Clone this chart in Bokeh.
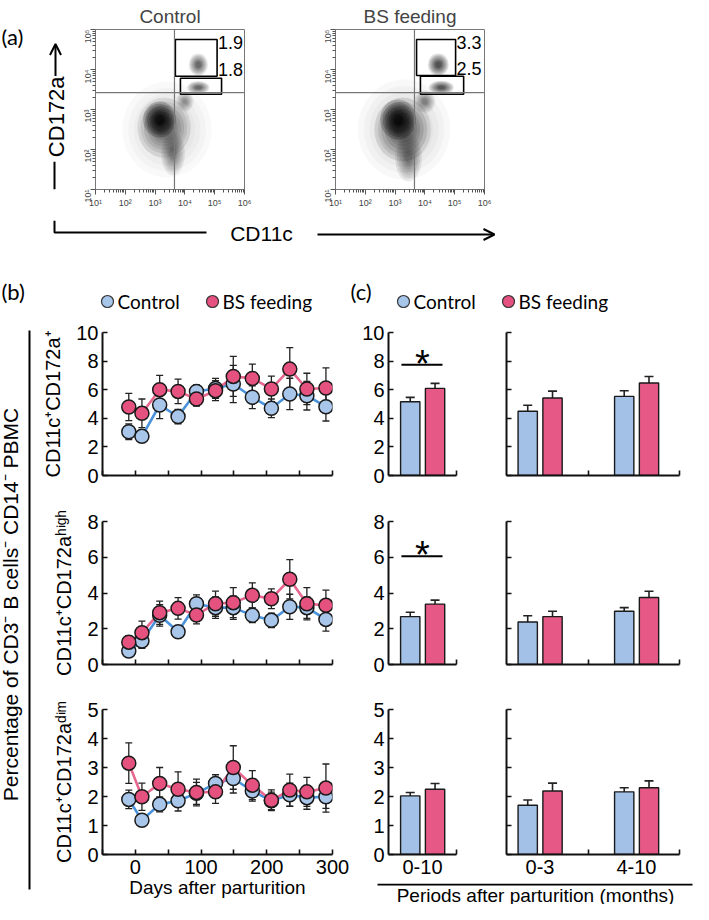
import numpy as np
from bokeh.plotting import figure
from bokeh.layouts import row, column
from bokeh.models import (Range1d, FixedTicker, Whisker, TeeHead, ColumnDataSource,
                          Span, Arrow, OpenHead, Spacer)
from bokeh.core.properties import value
from bokeh.embed import file_html
from bokeh.resources import INLINE

# ---------------- data ----------------
# Panel (a): flow cytometry (log10 units). Density clusters: centre, spread, weight
flow_ctrl_cx = [3.15, 3.3, 3.6, 4.45, 4.45, 4.0, 3.4]
flow_ctrl_cy = [2.75, 2.55, 1.9, 4.12, 3.55, 3.2, 2.5]
flow_ctrl_sx = [0.55, 0.9, 0.4, 0.32, 0.38, 0.3, 1.5]
flow_ctrl_sy = [0.45, 0.75, 0.55, 0.28, 0.16, 0.25, 1.2]
flow_ctrl_wt = [1.0, 0.4, 0.35, 0.5, 0.5, 0.3, 0.12]

flow_bs_cx = [3.1, 3.25, 3.45, 4.45, 4.55, 4.0, 3.3]
flow_bs_cy = [2.75, 2.5, 1.8, 4.12, 3.55, 3.2, 2.5]
flow_bs_sx = [0.6, 0.95, 0.45, 0.35, 0.42, 0.35, 1.55]
flow_bs_sy = [0.5, 0.8, 0.6, 0.28, 0.17, 0.28, 1.25]
flow_bs_wt = [1.0, 0.45, 0.4, 0.65, 0.6, 0.35, 0.14]

quad_x = 3.65
quad_y = 3.42
gate_hi_ctrl = [3.68, 5.08, 3.83, 4.75]
gate_lo_ctrl = [3.85, 5.23, 3.38, 3.78]
gate_hi_bs = [3.72, 5.03, 3.85, 4.75]
gate_lo_bs = [3.85, 5.30, 3.38, 3.83]
gate_pct_ctrl = ["1.9", "1.8"]
gate_pct_bs = ["3.3", "2.5"]
flow_decades_x = [1, 2, 3, 4, 5, 6]
flow_decades_y = [1, 2, 3, 4, 5]
sup = {1: "¹", 2: "²", 3: "³", 4: "⁴", 5: "⁵", 6: "⁶"}

# Panel (b): time course
days = [-10, 10, 37, 65, 93, 122, 149, 178, 207, 235, 261, 290]
ctrl_pos = [3.06, 2.74, 4.93, 4.12, 5.88, 6.09, 6.40, 5.47, 4.70, 5.70, 5.58, 4.81]
ctrl_pos_e = [0.55, 0.3, 0.95, 0.5, 0.45, 0.7, 1.3, 0.8, 0.65, 1.1, 1.0, 1.0]
bs_pos = [4.79, 4.35, 6.00, 5.88, 5.35, 5.93, 6.93, 6.79, 6.05, 7.44, 6.05, 6.12]
bs_pos_e = [0.95, 1.0, 1.0, 0.86, 0.5, 0.7, 1.4, 1.0, 0.9, 1.5, 1.1, 1.4]

ctrl_high = [0.75, 1.31, 2.75, 1.83, 3.40, 3.18, 3.18, 2.75, 2.47, 3.23, 3.18, 2.52]
ctrl_high_e = [0.3, 0.4, 0.6, 0.3, 0.5, 0.6, 0.65, 0.4, 0.4, 0.7, 0.6, 0.65]
bs_high = [1.25, 1.78, 2.90, 3.14, 2.77, 3.40, 3.46, 3.87, 3.68, 4.77, 3.40, 3.31]
bs_high_e = [0.35, 0.65, 0.65, 0.6, 0.5, 0.7, 0.84, 0.7, 0.55, 1.1, 0.9, 0.85]

ctrl_dim = [1.90, 1.18, 1.73, 1.85, 2.11, 2.45, 2.62, 2.19, 1.85, 2.06, 1.96, 1.99]
ctrl_dim_e = [0.32, 0.15, 0.26, 0.35, 0.38, 0.3, 0.5, 0.35, 0.3, 0.4, 0.4, 0.4]
bs_dim = [3.15, 1.99, 2.45, 2.25, 2.14, 2.16, 3.00, 2.39, 1.87, 2.22, 2.16, 2.29]
bs_dim_e = [0.7, 0.47, 0.55, 0.6, 0.46, 0.4, 0.75, 0.5, 0.36, 0.55, 0.5, 0.83]

# Panel (c): period means
periods_all = ["0-10"]
periods_split = ["0-3", "4-10"]
pos_ctrl_all, pos_ctrl_all_e = [5.16], [0.3]
pos_bs_all, pos_bs_all_e = [6.09], [0.35]
pos_ctrl_split, pos_ctrl_split_e = [4.49, 5.53], [0.42, 0.4]
pos_bs_split, pos_bs_split_e = [5.42, 6.47], [0.48, 0.45]
high_ctrl_all, high_ctrl_all_e = [2.68], [0.24]
high_bs_all, high_bs_all_e = [3.38], [0.22]
high_ctrl_split, high_ctrl_split_e = [2.38, 2.98], [0.35, 0.2]
high_bs_split, high_bs_split_e = [2.68, 3.75], [0.3, 0.35]
dim_ctrl_all, dim_ctrl_all_e = [2.02], [0.12]
dim_bs_all, dim_bs_all_e = [2.25], [0.2]
dim_ctrl_split, dim_ctrl_split_e = [1.70, 2.16], [0.18, 0.14]
dim_bs_split, dim_bs_split_e = [2.19, 2.30], [0.27, 0.24]
sig_pos = 7.75
sig_high = 6.05

# ---------------- styles ----------------
FONT = "Liberation Sans"
LFONT = "Lato"
BLUE_LINE = "#4a93dc"
PINK_LINE = "#e8678f"
BLUE_FILL = "#a8c5ea"
PINK_FILL = "#e6527f"
BAR_BLUE = "#a3c1e7"
BAR_PINK = "#e65987"
EDGE = "#1a1a1a"
TICK_PX = "20px"


def canvas(x0, x1, y0, y1):
    p = figure(width=x1 - x0, height=y1 - y0, x_range=Range1d(x0, x1), y_range=Range1d(y1, y0),
               x_axis_type=None, y_axis_type=None, toolbar_location=None,
               output_backend="svg", min_border=0, outline_line_color=None)
    p.background_fill_color = "white"
    p.border_fill_color = "white"
    return p


def txt(p, x, y, s, size, font=FONT, align="center", baseline="middle", angle=0.0):
    p.text(x=[x], y=[y], text=[s], text_font=value(font), text_font_size=f"{size}px",
           text_align=align, text_baseline=baseline, angle=angle, text_color="black")


def arrow(p, x0, y0, x1, y1):
    p.add_layout(Arrow(end=OpenHead(size=11, line_width=2, line_color="black"),
                       x_start=x0, y_start=y0, x_end=x1, y_end=y1,
                       line_width=2, line_color="black"))


# ---------------- panel (a) ----------------
def flow_fig(title, cx, cy, sx, sy, wt, g_hi, g_lo, pct, left_border):
    p = figure(width=left_border + 149 + 16, height=220, x_range=Range1d(1, 6), y_range=Range1d(1, 5),
               min_border_left=left_border, min_border_right=16, min_border_top=29,
               min_border_bottom=31, toolbar_location=None, output_backend="svg")
    p.title.text = title
    p.title.align = "center"
    p.title.text_font = FONT
    p.title.text_font_size = "19px"
    p.title.text_font_style = "normal"
    p.title.standoff = 5
    p.grid.visible = False
    p.outline_line_color = "#777777"
    layers = [1.0, 0.87, 0.75, 0.63, 0.52, 0.42, 0.33, 0.25]
    ex, ey, ew, eh, ea = [], [], [], [], []
    for a, b, c, d, w in zip(cx, cy, sx, sy, wt):
        for s in layers:
            ex.append(a); ey.append(b); ew.append(2 * c * s); eh.append(2 * d * s)
            ea.append(min(1.0, w * 0.2))
    p.ellipse(x=ex, y=ey, width=ew, height=eh, fill_color="black", fill_alpha=ea, line_color=None)
    p.add_layout(Span(location=quad_x, dimension="height", line_color="#777777", line_width=1.2))
    p.add_layout(Span(location=quad_y, dimension="width", line_color="#777777", line_width=1.2))
    for g in (g_hi, g_lo):
        p.quad(left=[g[0]], right=[g[1]], bottom=[g[2]], top=[g[3]], fill_color=None,
               line_color="black", line_width=1.6)
    p.text(x=[g_hi[1] + 0.03, g_hi[1] + 0.03], y=[g_hi[3] - 0.07, g_hi[2] + 0.17], text=pct,
           text_font=value(FONT), text_font_size="18px", text_align="left",
           text_baseline="middle", text_color="black")
    minors = [float(np.log10(m)) + k for k in range(1, 6) for m in range(2, 10)]
    p.xaxis.ticker = FixedTicker(ticks=flow_decades_x, minor_ticks=minors)
    p.yaxis.ticker = FixedTicker(ticks=flow_decades_y, minor_ticks=[v for v in minors if v < 5])
    p.xaxis.major_label_overrides = {k: "10" + sup[k] for k in flow_decades_x}
    p.yaxis.major_label_overrides = {k: "10" + sup[k] for k in flow_decades_y}
    p.yaxis.major_label_orientation = np.pi / 2
    for ax in (p.xaxis, p.yaxis):
        ax.major_label_text_font = FONT
        ax.major_label_text_font_size = "9px"
        ax.major_label_standoff = 3
        ax.axis_line_color = "#777777"
        ax.major_tick_line_color = "#555555"
        ax.minor_tick_line_color = "#555555"
        ax.major_tick_in = 0
        ax.major_tick_out = 5
        ax.minor_tick_in = 0
        ax.minor_tick_out = 3
    return p


# control figure spans x 82..268, BS figure x 315..508 (frames 103..252 and 343..492)
flow_ctrl = flow_fig("Control", flow_ctrl_cx, flow_ctrl_cy, flow_ctrl_sx, flow_ctrl_sy,
                     flow_ctrl_wt, gate_hi_ctrl, gate_lo_ctrl, gate_pct_ctrl, 21)
flow_bs = flow_fig("BS feeding", flow_bs_cx, flow_bs_cy, flow_bs_sx, flow_bs_sy,
                   flow_bs_wt, gate_hi_bs, gate_lo_bs, gate_pct_bs, 28)

annA_left = canvas(8, 82, 8, 228)
txt(annA_left, 9, 17, "(a)", 22, font=LFONT, align="left")
arrow(annA_left, 63, 72, 63, 28)
txt(annA_left, 64, 128, "CD172a", 22, angle=np.pi / 2)
annA_left.line(x=[62, 62], y=[190, 228], line_color="black", line_width=2)

annA_bottom = canvas(8, 701, 228, 285)
annA_bottom.line(x=[62, 62, 214], y=[228, 240, 240], line_color="black", line_width=2)
txt(annA_bottom, 269, 241, "CD11c", 21)
arrow(annA_bottom, 325, 242, 502, 242)

rowA = row(annA_left, flow_ctrl, Spacer(width=47, height=220), flow_bs, spacing=0)

# ---------------- legends strip ----------------
leg = canvas(8, 701, 285, 330)
txt(leg, 9, 299, "(b)", 22, font=LFONT, align="left")
txt(leg, 358, 299, "(c)", 22, font=LFONT, align="left")
for x0 in (115, 411):
    leg.scatter(x=[x0], y=[309], size=12, fill_color=BLUE_FILL, line_color="#333333", line_width=1.2)
    leg.scatter(x=[x0 + 105], y=[309], size=12, fill_color=PINK_FILL, line_color="#333333", line_width=1.2)
    txt(leg, x0 + 10, 309, "Control", 19, font=LFONT, align="left")
    txt(leg, x0 + 115, 309, "BS feeding", 19, font=LFONT, align="left")


# ---------------- panel (b) ----------------
def style_axes(p):
    for ax in (p.xaxis, p.yaxis):
        ax.axis_line_width = 2
        ax.axis_line_color = "#111111"
        ax.major_tick_in = 5
        ax.major_tick_out = 0
        ax.minor_tick_in = 5
        ax.minor_tick_out = 0
        ax.major_tick_line_width = 1.6
        ax.minor_tick_line_width = 1.6
        ax.major_tick_line_color = "#111111"
        ax.minor_tick_line_color = "#111111"
        ax.major_label_text_font = FONT
        ax.major_label_text_font_size = TICK_PX
        ax.major_label_text_color = "black"
        ax.major_label_standoff = 4
        ax.axis_label_text_font = FONT
        ax.axis_label_text_font_style = "normal"
        ax.axis_label_text_color = "black"
    p.grid.visible = False
    p.outline_line_color = None


def whisk(p, xs, ys, es, size, width):
    src = ColumnDataSource(dict(x=xs, upper=[a + b for a, b in zip(ys, es)],
                                lower=[a - b for a, b in zip(ys, es)]))
    p.add_layout(Whisker(source=src, base="x", upper="upper", lower="lower",
                         line_color="#222222", line_width=width,
                         upper_head=TeeHead(size=size, line_color="#222222", line_width=width),
                         lower_head=TeeHead(size=size, line_color="#222222", line_width=width),
                         level="underlay"))


def line_fig(frame_h, top, bottom, ymax, ystep, ylabel, c, ce, b, be, show_x):
    p = figure(width=315, height=top + frame_h + bottom, x_range=Range1d(-50, 300),
               y_range=Range1d(0, ymax), min_border_left=65, min_border_right=20,
               min_border_top=top, min_border_bottom=bottom,
               toolbar_location=None, output_backend="svg")
    style_axes(p)
    p.yaxis.ticker = FixedTicker(ticks=list(range(0, ymax + 1, ystep)))
    p.yaxis.axis_label = ylabel
    p.yaxis.axis_label_text_font_size = "20px"
    p.yaxis.axis_label_standoff = 9
    if show_x:
        p.xaxis.ticker = FixedTicker(ticks=[0, 100, 200, 300], minor_ticks=[-50, 50, 150, 250])
        p.xaxis.axis_label = "Days after parturition"
        p.xaxis.axis_label_text_font_size = "19px"
        p.xaxis.axis_label_standoff = 0
        p.xaxis.major_label_standoff = 5
    else:
        p.xaxis.ticker = FixedTicker(ticks=[], minor_ticks=[-50, 0, 50, 100, 150, 200, 250, 300])
    whisk(p, days, c, ce, 7, 1.3)
    whisk(p, days, b, be, 7, 1.3)
    p.line(days, c, line_color=BLUE_LINE, line_width=2.6)
    p.line(days, b, line_color=PINK_LINE, line_width=2.6)
    p.scatter(days, c, size=14, fill_color=BLUE_FILL, line_color=EDGE, line_width=1.5)
    p.scatter(days, b, size=14, fill_color=PINK_FILL, line_color=EDGE, line_width=1.5)
    return p


b1 = line_fig(143, 10, 17, 10, 2, "CD11c⁺CD172a⁺", ctrl_pos, ctrl_pos_e, bs_pos, bs_pos_e, False)
b2 = line_fig(143, 29, 18, 8, 2, "CD11c⁺CD172aʰⁱᵍʰ", ctrl_high, ctrl_high_e, bs_high, bs_high_e, False)
b3 = line_fig(145, 27, 50, 5, 1, "CD11c⁺CD172aᵈⁱᵐ", ctrl_dim, ctrl_dim_e, bs_dim, bs_dim_e, True)

annB_left = canvas(8, 45, 330, 912)
txt(annB_left, 18, 612, "Percentage of CD3⁻ B cells⁻ CD14⁻ PBMC", 21, angle=np.pi / 2)
annB_left.line(x=[37, 37], y=[338, 897], line_color="black", line_width=2)


# ---------------- panel (c) ----------------
def bar_fig(kind, frame_h, top, bottom, ymax, ystep, cats, cb, cbe, pb, pbe, show_x, sig=None):
    if kind == "all":
        w, lb, rb, xr, bounds = 110, 36, 6, Range1d(-0.352, 0.352), [0.352]
    else:
        w, lb, rb, xr, bounds = 231, 44, 14, Range1d(-0.347, 1.446), [0.503, 1.446]
    p = figure(width=w, height=top + frame_h + bottom, x_range=xr, y_range=Range1d(0, ymax),
               min_border_left=lb, min_border_right=rb, min_border_top=top,
               min_border_bottom=bottom, toolbar_location=None, output_backend="svg")
    style_axes(p)
    yt = list(range(0, ymax + 1, ystep))
    if kind == "all":
        p.yaxis.ticker = FixedTicker(ticks=yt)
    else:
        p.yaxis.ticker = FixedTicker(ticks=[], minor_ticks=yt)
    idx = list(range(len(cats)))
    if show_x:
        p.xaxis.ticker = FixedTicker(ticks=idx, minor_ticks=bounds)
        p.xaxis.major_label_overrides = {i: c for i, c in zip(idx, cats)}
        p.xaxis.major_tick_in = 0
        p.xaxis.major_label_standoff = 5
    else:
        p.xaxis.ticker = FixedTicker(ticks=[], minor_ticks=bounds)
    bx = [i - 0.127 for i in idx]
    px = [i + 0.13 for i in idx]
    p.vbar(x=bx, top=cb, width=0.2, bottom=0, fill_color=BAR_BLUE, line_color=EDGE, line_width=1.4)
    p.vbar(x=px, top=pb, width=0.2, bottom=0, fill_color=BAR_PINK, line_color=EDGE, line_width=1.4)
    whisk(p, bx, cb, cbe, 9, 1.6)
    whisk(p, px, pb, pbe, 9, 1.6)
    if sig is not None:
        p.line(x=[-0.218, 0.207], y=[sig, sig], line_color="black", line_width=2)
        p.text(x=[0.0], y=[sig], text=["*"], text_font=value(FONT), text_font_size="38px",
               text_align="center", text_baseline="alphabetic", y_offset=-1, text_color="black")
    return p


c1a = bar_fig("all", 143, 10, 17, 10, 2, periods_all, pos_ctrl_all, pos_ctrl_all_e,
              pos_bs_all, pos_bs_all_e, False, sig_pos)
c2a = bar_fig("split", 143, 10, 17, 10, 2, periods_split, pos_ctrl_split, pos_ctrl_split_e,
              pos_bs_split, pos_bs_split_e, False)
c1b = bar_fig("all", 143, 29, 18, 8, 2, periods_all, high_ctrl_all, high_ctrl_all_e,
              high_bs_all, high_bs_all_e, False, sig_high)
c2b = bar_fig("split", 143, 29, 18, 8, 2, periods_split, high_ctrl_split, high_ctrl_split_e,
              high_bs_split, high_bs_split_e, False)
c1c = bar_fig("all", 145, 27, 29, 5, 1, periods_all, dim_ctrl_all, dim_ctrl_all_e,
              dim_bs_all, dim_bs_all_e, True)
c2c = bar_fig("split", 145, 27, 29, 5, 1, periods_split, dim_ctrl_split, dim_ctrl_split_e,
              dim_bs_split, dim_bs_split_e, True)

strip_c = canvas(360, 701, 891, 912)
strip_c.line(x=[385, 700], y=[892, 892], line_color="black", line_width=2)
txt(strip_c, 543, 902.5, "Periods after parturition (months)", 19)

colB = column(b1, b2, b3, spacing=0)
colC = column(row(c1a, c2a, spacing=0), row(c1b, c2b, spacing=0), row(c1c, c2c, spacing=0),
              strip_c, spacing=0)
rowBC = row(annB_left, colB, colC, spacing=0)

page = column(rowA, annA_bottom, leg, rowBC, spacing=0)

open("out.html", "w").write(file_html(page, INLINE))
